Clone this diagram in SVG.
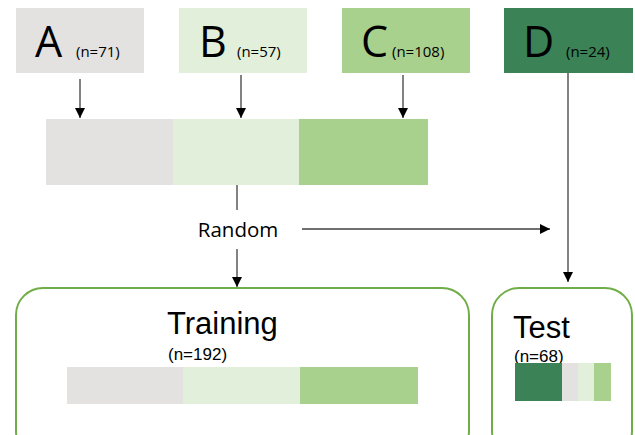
<svg xmlns="http://www.w3.org/2000/svg" width="635" height="435" viewBox="0 0 635 435">
<style>
.big{font-family:"Open Sans","Liberation Sans",sans-serif;font-size:43px;fill:#000}
.n{font-family:"Open Sans","Liberation Sans",sans-serif;font-size:15px;fill:#000}
.rand{font-family:"Open Sans","Liberation Sans",sans-serif;font-size:20.5px;fill:#000}
.title{font-family:"Liberation Sans",Arial,sans-serif;font-size:31px;fill:#000}
.sub{font-family:"Liberation Sans",Arial,sans-serif;font-size:17px;fill:#000}
.gray{fill:#e3e2e1}
.lg{fill:#e2efda}
.mg{fill:#a9d18e}
.dg{fill:#3b8257}
.box{fill:none;stroke:#70ad47;stroke-width:2}
.conn{stroke:#404040;stroke-width:1.3;fill:none}
</style>
<defs>
<marker id="ah" viewBox="0 0 10 10" refX="10" refY="5" markerWidth="10" markerHeight="10" markerUnits="userSpaceOnUse" orient="auto">
<path d="M0,0 L10,5 L0,10 Z" fill="#000"/>
</marker>
</defs>
<g id="nodeA">
<rect class="gray" x="16" y="8" width="128" height="65"/>
<text class="big" x="35" y="57">A</text>
<text class="n" x="76" y="57">(n=71)</text>
</g>
<g id="nodeB">
<rect class="lg" x="179" y="8" width="128" height="65"/>
<text class="big" x="199" y="57">B</text>
<text class="n" x="237" y="57">(n=57)</text>
</g>
<g id="nodeC">
<rect class="mg" x="342" y="8" width="128" height="65"/>
<text class="big" x="361" y="57">C</text>
<text class="n" x="392" y="57">(n=108)</text>
</g>
<g id="nodeD">
<rect class="dg" x="504" y="8" width="129" height="65"/>
<text class="big" x="523" y="57">D</text>
<text class="n" x="566" y="57">(n=24)</text>
</g>
<g id="pool">
<rect class="gray" x="46" y="119" width="127" height="66"/>
<rect class="lg" x="173" y="119" width="126" height="66"/>
<rect class="mg" x="299" y="119" width="129" height="66"/>
</g>
<g id="random">
<text class="rand" x="238" y="237" text-anchor="middle">Random</text>
</g>
<g id="training">
<rect class="box" x="16" y="288" width="453" height="170" rx="27" ry="27"/>
<text class="title" x="167" y="334">Training</text>
<text class="sub" x="168" y="360">(n=192)</text>
<rect class="gray" x="67" y="367" width="116" height="37"/>
<rect class="lg" x="183" y="367" width="117" height="37"/>
<rect class="mg" x="300" y="367" width="118" height="37"/>
</g>
<g id="test">
<rect class="box" x="492" y="288" width="140" height="170" rx="27" ry="27"/>
<text class="title" x="513" y="338">Test</text>
<text class="sub" x="514" y="362">(n=68)</text>
<rect class="dg" x="515" y="363" width="47" height="38"/>
<rect class="gray" x="562" y="363" width="16" height="38"/>
<rect class="lg" x="578" y="363" width="16" height="38"/>
<rect class="mg" x="594" y="363" width="17" height="38"/>
</g>
<g id="connectors">
<line class="conn" x1="80" y1="79" x2="80" y2="118" marker-end="url(#ah)"/>
<line class="conn" x1="241" y1="75" x2="241" y2="118" marker-end="url(#ah)"/>
<line class="conn" x1="403" y1="75" x2="403" y2="118" marker-end="url(#ah)"/>
<line class="conn" x1="237" y1="185" x2="237" y2="210"/>
<line class="conn" x1="237" y1="249" x2="237" y2="287" marker-end="url(#ah)"/>
<line class="conn" x1="302" y1="229" x2="550" y2="229" marker-end="url(#ah)"/>
<line class="conn" x1="568" y1="73" x2="568" y2="282" marker-end="url(#ah)"/>
</g>
</svg>
